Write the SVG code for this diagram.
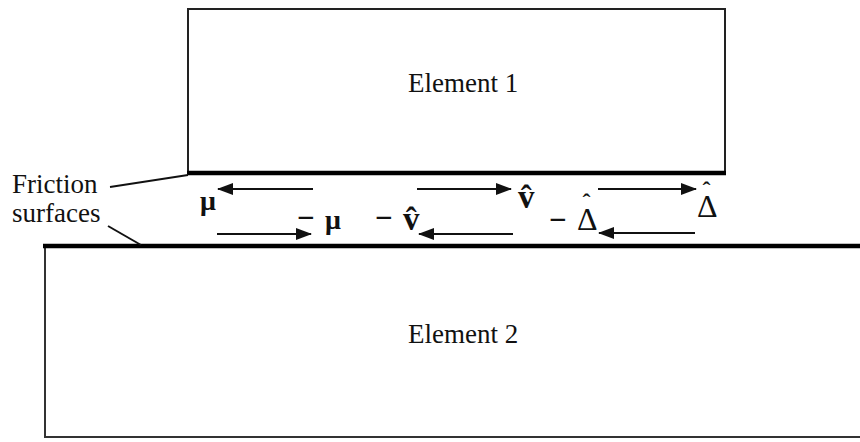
<svg xmlns="http://www.w3.org/2000/svg" width="860" height="442" viewBox="0 0 860 442">
<style>
.box{fill:#fff;stroke:#222;stroke-width:2}
.surf{stroke:#000;stroke-width:4.5;fill:none}
.lead{stroke:#111;stroke-width:2;fill:none}
.arr{stroke:#111;stroke-width:2.2;fill:none;marker-end:url(#ah)}
.t{font-size:27px;fill:#111}
.b{font-size:28px;font-weight:bold;fill:#111}
.m{font-size:31px;font-weight:bold;fill:#111}
.v{font-size:33px;font-weight:bold;fill:#111}
.d{font-size:32px;fill:#111}
.h{font-size:24px;font-weight:bold}
</style>
<defs>
<marker id="ah" markerWidth="16" markerHeight="12" refX="15" refY="6" orient="auto" markerUnits="userSpaceOnUse">
<path d="M0,0 L16,6 L0,12 Z" fill="#111"/>
</marker>
</defs>
<rect width="860" height="442" fill="#fff"/>
<g font-family="Liberation Serif, Times New Roman, serif">
<g id="element1">
<rect class="box" x="188" y="9" width="537" height="164"/>
<line class="surf" x1="187" y1="173" x2="726" y2="173"/>
<text class="t" x="408" y="92">Element 1</text>
</g>
<g id="element2">
<path d="M45,246 V437 H860" fill="none" stroke="#333" stroke-width="2"/>
<line class="surf" x1="43" y1="246" x2="860" y2="246"/>
<text class="t" x="408" y="343">Element 2</text>
</g>
<g id="label">
<text class="t" x="12" y="193">Friction</text>
<text class="t" x="12" y="222">surfaces</text>
</g>
<g id="connectors">
<line class="lead" x1="110" y1="187" x2="188" y2="175"/>
<line class="lead" x1="108" y1="226" x2="141" y2="245"/>
<line class="arr" x1="313" y1="189" x2="218" y2="189"/>
<line class="arr" x1="217" y1="234" x2="311" y2="234"/>
<line class="arr" x1="417" y1="189" x2="511" y2="189"/>
<line class="arr" x1="513" y1="234" x2="419" y2="234"/>
<line class="arr" x1="598" y1="189" x2="696" y2="189"/>
<line class="arr" x1="695" y1="233" x2="599" y2="233"/>
</g>
<g id="symbols">
<text class="b" x="200" y="210">μ</text>
<text class="m" x="297" y="228">−</text>
<text class="b" x="325" y="229">μ</text>
<text class="v" x="518" y="208">v̂</text>
<text class="m" x="375" y="228">−</text>
<text class="v" x="403" y="230">v̂</text>
<text class="d" x="697" y="217">Δ<tspan class="h" dx="-15" dy="-19">ˆ</tspan></text>
<text class="m" x="549" y="230">−</text>
<text class="d" x="577" y="230">Δ<tspan class="h" dx="-15" dy="-20">ˆ</tspan></text>
</g>
</g>
</svg>
